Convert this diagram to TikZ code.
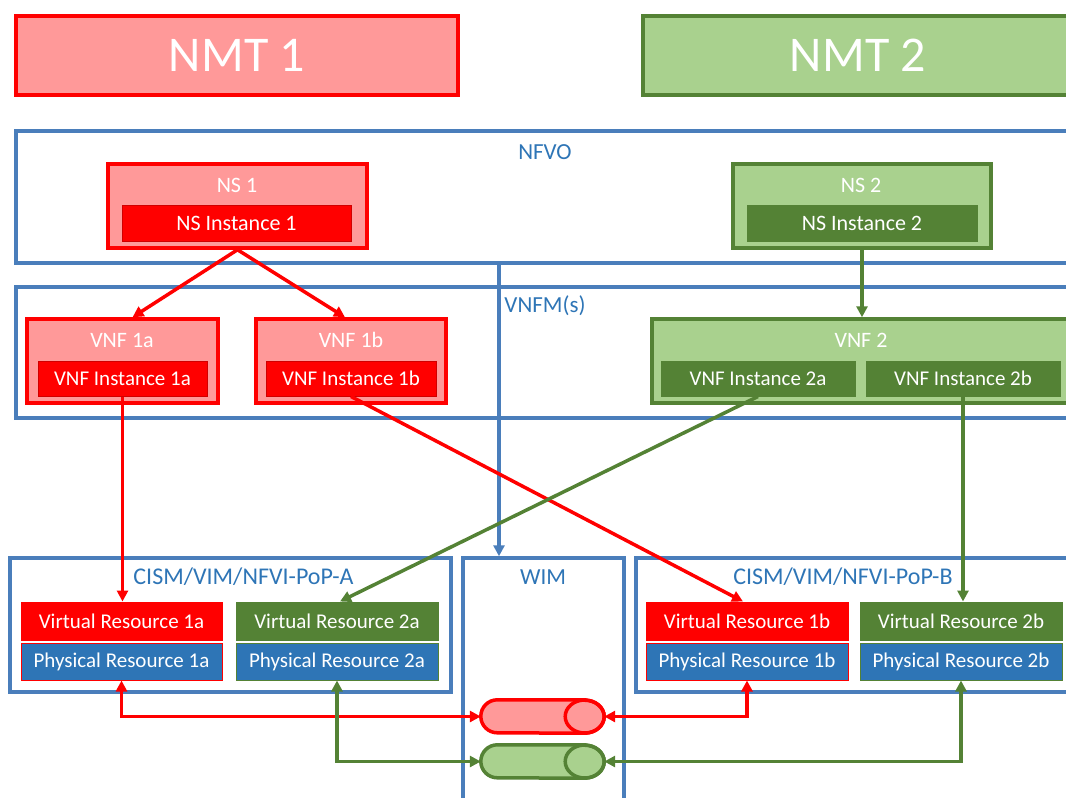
\documentclass[tikz,border=0pt]{standalone}
\usepackage{fontspec}
\setmainfont{Carlito}
\usetikzlibrary{arrows.meta,calc}
\definecolor{pinkf}{HTML}{FF9999}
\definecolor{redc}{HTML}{FF0000}
\definecolor{redd}{HTML}{D00000}
\definecolor{lgreen}{HTML}{A9D18E}
\definecolor{dgreen}{HTML}{548235}
\definecolor{blueb}{HTML}{4A7EBB}
\definecolor{bluet}{HTML}{2E75B6}
\definecolor{bluef}{HTML}{2E75B6}
\begin{document}
\begin{tikzpicture}[x=1pt,y=-1pt,
  cont/.style={draw=blueb, line width=3.5pt, rectangle, inner sep=0pt},
  clabel/.style={text=bluet, font=\fontsize{23}{27}\selectfont, inner sep=0pt},
  redouter/.style={draw=redc, fill=pinkf, line width=3.5pt, rectangle, inner sep=0pt},
  greenouter/.style={draw=dgreen, fill=lgreen, line width=3.5pt, rectangle, inner sep=0pt},
  wlabel/.style={text=white, font=\fontsize{22}{26}\selectfont, inner sep=0pt},
  redinner/.style={draw=redd, fill=redc, line width=1pt, rectangle, inner sep=0pt, text=white, font=\fontsize{21}{25}\selectfont},
  greeninner/.style={draw=dgreen, fill=dgreen, line width=1pt, rectangle, inner sep=0pt, text=white, font=\fontsize{21}{25}\selectfont},
  physr/.style={draw=redc, fill=bluef, line width=1pt, rectangle, inner sep=0pt, text=white, font=\fontsize{21}{25}\selectfont},
  physg/.style={draw=dgreen, fill=bluef, line width=1pt, rectangle, inner sep=0pt, text=white, font=\fontsize{21}{25}\selectfont},
  redarrow/.style={draw=redc, line width=3.5pt, -{Triangle[length=11pt,width=11pt]}},
  greenarrow/.style={draw=dgreen, line width=3.5pt, -{Triangle[length=11pt,width=11pt]}},
  bluearrow/.style={draw=blueb, line width=3.5pt, -{Triangle[length=11pt,width=11pt]}},
  redboth/.style={draw=redc, line width=3.5pt, {Triangle[length=11pt,width=11pt]}-{Triangle[length=11pt,width=11pt]}},
  greenboth/.style={draw=dgreen, line width=3.5pt, {Triangle[length=11pt,width=11pt]}-{Triangle[length=11pt,width=11pt]}},
  cylref/.style={inner sep=0pt, minimum width=123pt, minimum height=33pt}
]
\useasboundingbox (0,0) rectangle (1066,798);
\clip (0,0) rectangle (1066,798);

% NMT banners
\node[redouter, minimum width=442pt, minimum height=79pt, text=white, font=\fontsize{50}{56}\selectfont] (nmt1) at (237,55.5) {NMT 1};
\node[greenouter, minimum width=430pt, minimum height=79pt, text=white, font=\fontsize{50}{56}\selectfont] (nmt2) at (858,55.5) {NMT 2};

% containers
\node[cont, minimum width=1064pt, minimum height=132pt] (nfvo) at (548,197) {};
\node[clabel] (nfvolbl) at (545,152) {NFVO};
\node[cont, minimum width=1064pt, minimum height=131pt] (vnfm) at (548,352.5) {};
\node[clabel] (vnfmlbl) at (545,306) {VNFM(s)};

% NS
\node[redouter, minimum width=259pt, minimum height=84pt] (ns1) at (237.5,206) {};
\node[wlabel] (ns1lbl) at (237,185) {NS 1};
\node[redinner, minimum width=229pt, minimum height=36pt, font=\fontsize{22}{26}\selectfont] (nsi1) at (236.5,223) {NS Instance 1};
\node[greenouter, minimum width=258pt, minimum height=84pt] (ns2) at (862,206) {};
\node[wlabel] (ns2lbl) at (861,185) {NS 2};
\node[greeninner, minimum width=230pt, minimum height=36pt, font=\fontsize{22}{26}\selectfont] (nsi2) at (862,223) {NS Instance 2};

% VNFs
\node[redouter, minimum width=191pt, minimum height=84pt] (vnf1a) at (122.5,361) {};
\node[wlabel] (vnf1albl) at (122,340) {VNF 1a};
\node[redinner, minimum width=169pt, minimum height=35pt] (vnfi1a) at (122.5,378.5) {VNF Instance 1a};
\node[redouter, minimum width=190pt, minimum height=84pt] (vnf1b) at (351,361) {};
\node[wlabel] (vnf1blbl) at (351,340) {VNF 1b};
\node[redinner, minimum width=170pt, minimum height=35pt] (vnfi1b) at (351,378.5) {VNF Instance 1b};
\node[greenouter, minimum width=418pt, minimum height=84pt] (vnf2) at (861,361) {};
\node[wlabel] (vnf2lbl) at (861,340) {VNF 2};
\node[greeninner, minimum width=194pt, minimum height=35pt] (vnfi2a) at (758,378.5) {VNF Instance 2a};
\node[greeninner, minimum width=194pt, minimum height=35pt] (vnfi2b) at (963,378.5) {VNF Instance 2b};

% PoPs and WIM
\node[cont, minimum width=441pt, minimum height=134pt] (popa) at (230.5,625) {};
\node[clabel, font=\fontsize{24}{28}\selectfont] (popalbl) at (243.5,577) {CISM/VIM/NFVI-PoP-A};
\node[cont, minimum width=161pt, minimum height=260pt] (wim) at (543.5,688) {};
\node[clabel] (wimlbl) at (543,577) {WIM};
\node[cont, minimum width=444pt, minimum height=134pt] (popb) at (858,625) {};
\node[clabel, font=\fontsize{24}{28}\selectfont] (popblbl) at (843,577) {CISM/VIM/NFVI-PoP-B};

% resources
\node[redinner, draw=redc, minimum width=201pt, minimum height=38pt] (vr1a) at (121.5,621) {Virtual Resource 1a};
\node[physr, minimum width=201pt, minimum height=37pt] (pr1a) at (121.5,661.5) {Physical Resource 1a};
\node[greeninner, minimum width=202pt, minimum height=38pt] (vr2a) at (337,621) {Virtual Resource 2a};
\node[physg, minimum width=202pt, minimum height=37pt] (pr2a) at (337,661.5) {Physical Resource 2a};
\node[redinner, draw=redc, minimum width=202pt, minimum height=38pt] (vr1b) at (747,621) {Virtual Resource 1b};
\node[physr, minimum width=202pt, minimum height=37pt] (pr1b) at (747,661.5) {Physical Resource 1b};
\node[greeninner, minimum width=202pt, minimum height=38pt] (vr2b) at (961,621) {Virtual Resource 2b};
\node[physg, minimum width=202pt, minimum height=37pt] (pr2b) at (961,661.5) {Physical Resource 2b};

% cylinders
\node[cylref] (cyl1) at (542.5,716.5) {};
\draw[redc, fill=pinkf, line width=3.5pt]
  ($(cyl1.north east)+(-19.5,0)$) -- ($(cyl1.north west)+(16.5,0)$)
  arc[start angle=90, end angle=270, x radius=16.5pt, y radius=16.5pt]
  -- ($(cyl1.south east)+(-19.5,0)$)
  arc[start angle=-90, end angle=90, x radius=19.5pt, y radius=16.5pt] -- cycle;
\draw[redc, line width=3.5pt] ($(cyl1.east)+(-19.5,0)$) ellipse [x radius=19.5pt, y radius=16.5pt];
\node[cylref] (cyl2) at (542.5,761.5) {};
\draw[dgreen, fill=lgreen, line width=3.5pt]
  ($(cyl2.north east)+(-19.5,0)$) -- ($(cyl2.north west)+(16.5,0)$)
  arc[start angle=90, end angle=270, x radius=16.5pt, y radius=16.5pt]
  -- ($(cyl2.south east)+(-19.5,0)$)
  arc[start angle=-90, end angle=90, x radius=19.5pt, y radius=16.5pt] -- cycle;
\draw[dgreen, line width=3.5pt] ($(cyl2.east)+(-19.5,0)$) ellipse [x radius=19.5pt, y radius=16.5pt];

% connectors
\coordinate (blstart) at (499,263);
\draw[bluearrow] (blstart) -- (blstart |- wim.north);
\draw[redarrow] (ns1.south) -- ($(vnf1a.north)+(10,0)$);
\draw[redarrow] (ns1.south) -- ($(vnf1b.north)+(-6,0)$);
\draw[greenarrow] (ns2.south) -- (ns2.south |- vnf2.north);
\draw[redarrow] (vnfi1a.south) -- (vnfi1a.south |- vr1a.north);
\draw[redarrow] (vnfi1b.south) -- ($(vr1b.north)+(-4,0)$);
\draw[greenarrow] (vnfi2a.south) -- ($(vr2a.north)+(3,0)$);
\draw[greenarrow] (vnfi2b.south) -- (vnfi2b.south |- vr2b.north);
\draw[redboth] (pr1a.south) |- (cyl1.west);
\draw[redboth] (pr1b.south) |- (cyl1.east);
\draw[greenboth] (pr2a.south) |- (cyl2.west);
\draw[greenboth] (pr2b.south) |- (cyl2.east);
\end{tikzpicture}
\end{document}
